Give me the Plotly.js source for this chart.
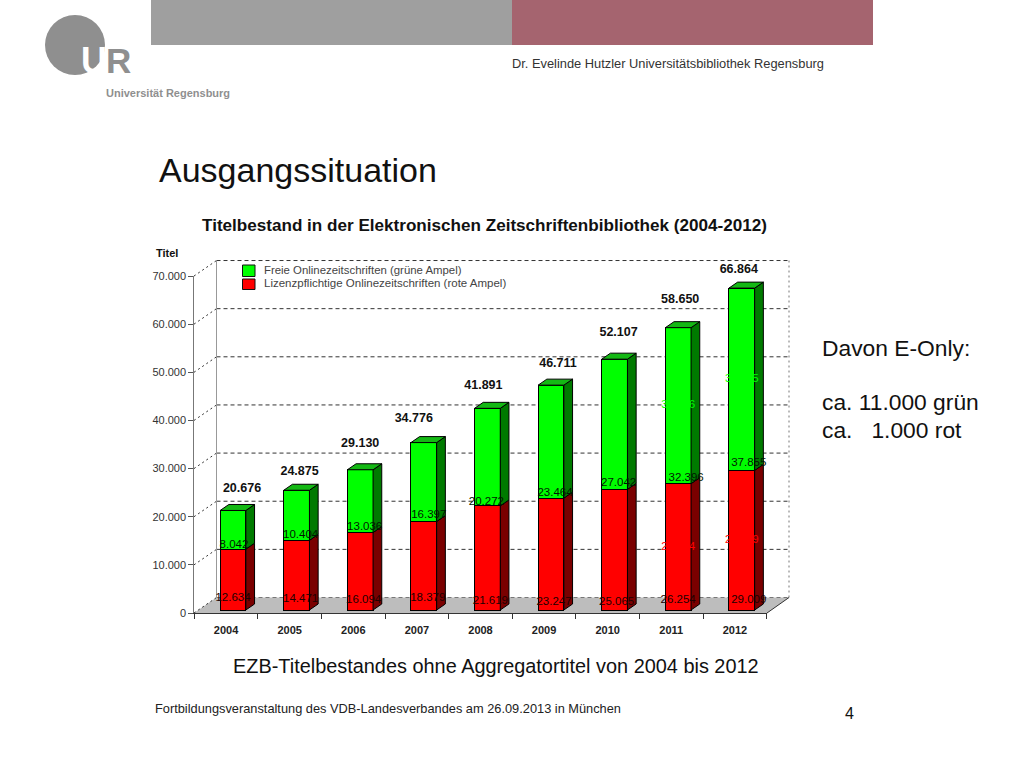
<!DOCTYPE html>
<html><head><meta charset="utf-8">
<script src="https://cdn.plot.ly/plotly-3.0.1.min.js"></script>
<style>html,body{margin:0;padding:0;background:#fff}#c{width:1024px;height:768px}</style>
</head><body><div id="c"></div>
<script>
var years = ['2004','2005','2006','2007','2008','2009','2010','2011','2012'];
var lizenz = [12634,14471,16094,18379,21619,23247,25065,26254,29009];
var frei = [8042,10404,13036,16397,20272,23464,27042,32396,37855];
var totals = [20676,24875,29130,34776,41891,46711,52107,58650,66864];
var yTicks = [0,10000,20000,30000,40000,50000,60000,70000];
var yTickText = ['0','10.000','20.000','30.000','40.000','50.000','60.000','70.000'];

// label nudges in pixels
var totalDx = [9,3,0,-10,-4,7,4,2,-3], totalDy = [22,18,26,24,22,21,26,28,18];
var freiDx = [1,4,4.5,5,-1,4,4,8,7], freiDy = [4,5,5,6,4,5,6,5,7];
var lizDx = [0,4,3.5,4,3,3,2,0,7], lizDy = [12,11,10,12,9,8,8,10,10];

var W=1024,H=768, PXC=63.6, PXV=0.004814, X0=233, Y0=610, BW=25.7/63.6, DX=8.7/PXC, DY=6/PXV;
var xr=[(0-X0)/PXC,(W-X0)/PXC], yr=[(Y0-H)/PXV,Y0/PXV];
function px(p){return (p-X0)/PXC;}
function py(p){return (Y0-p)/PXV;}
function fmt(v){return String(v).replace(/\B(?=(\d{3})+$)/g,'.');}
var idx=years.map(function(_,i){return i;});
var redTop=lizenz, greenTop=idx.map(function(i){return lizenz[i]+frei[i];});

function sidePoly(lo,hi){var xs=[],ys=[];idx.forEach(function(i){var r=i+BW/2;
  xs.push(r,r+DX,r+DX,r,r,null);ys.push(lo[i],lo[i]+DY,hi[i]+DY,hi[i],lo[i],null);});return {x:xs,y:ys};}
function topPoly(v){var xs=[],ys=[];idx.forEach(function(i){var l=i-BW/2,r=i+BW/2;
  xs.push(l,l+DX,r+DX,r,l,null);ys.push(v[i],v[i]+DY,v[i]+DY,v[i],v[i],null);});return {x:xs,y:ys};}
function poly(p,c){return {type:'scatter',mode:'lines',x:p.x,y:p.y,fill:'toself',fillcolor:c,xaxis:'x2',yaxis:'y2',
  line:{color:'#000',width:1},hoverinfo:'skip',showlegend:false};}
function txt(x,y,t,c,s,w){return {type:'scatter',mode:'text',x:x,y:y,text:t,textposition:'middle center',xaxis:'x2',yaxis:'y2',
  textfont:{family:'Liberation Sans',size:s,color:c,weight:w||400},hoverinfo:'skip',showlegend:false};}

var zeros=idx.map(function(){return 0;});
var traces=[
 {type:'scatter',mode:'lines',x:years,y:totals,xaxis:'x',yaxis:'y',opacity:0,hoverinfo:'skip',showlegend:false},
 {type:'bar',name:'Lizenzpflichtige Onlinezeitschriften (rote Ampel)',x:idx,y:lizenz,width:BW,xaxis:'x2',yaxis:'y2',marker:{color:'#ff0000',line:{color:'#000',width:1}},showlegend:false},
 {type:'bar',name:'Freie Onlinezeitschriften (grüne Ampel)',x:idx,y:frei,width:BW,xaxis:'x2',yaxis:'y2',marker:{color:'#00ff00',line:{color:'#000',width:1}},showlegend:false},
 poly(sidePoly(zeros,redTop),'#7a0000'),
 poly(sidePoly(redTop,greenTop),'#007a00'),
 poly(topPoly(greenTop),'#14b814'),
 // same-coloured centred labels, only their overhang shows
 txt([7,8],[lizenz[7]/2,lizenz[8]/2],[fmt(lizenz[7]),fmt(lizenz[8])],'#ff0000',11),
 txt([7,8],[lizenz[7]+frei[7]/2,lizenz[8]+frei[8]/2],[fmt(frei[7]),fmt(frei[8])],'#00ff00',11),
 txt(idx.map(function(i){return i+lizDx[i]/PXC;}),idx.map(function(i){return lizDy[i]/PXV;}),lizenz.map(fmt),'#200000',11.5),
 txt(idx.map(function(i){return i+freiDx[i]/PXC;}),idx.map(function(i){return lizenz[i]+freiDy[i]/PXV;}),frei.map(fmt),'#001800',11.5),
 txt(idx.map(function(i){return i+totalDx[i]/PXC;}),idx.map(function(i){return totals[i]+totalDy[i]/PXV;}),totals.map(fmt),'#111',12.5,700)
];

var shapes=[];
function paperRect(x0,y0,x1,y1,c){shapes.push({type:'rect',xref:'paper',yref:'paper',x0:x0/W,x1:x1/W,y0:1-y0/H,y1:1-y1/H,fillcolor:c,line:{width:0},layer:'below'});}
function seg(x0,y0,x1,y1,c,d){shapes.push({type:'line',xref:'x2',yref:'y2',x0:px(x0),x1:px(x1),y0:py(y0),y1:py(y1),line:{color:c,width:1,dash:d||'solid'},layer:'below'});}
paperRect(151,0,512,45,'#9f9f9f');
paperRect(512,0,873,45,'#a5646f');
shapes.push({type:'circle',xref:'paper',yref:'paper',x0:45/W,x1:105/W,y0:1-15/H,y1:1-75/H,fillcolor:'#8f8f8f',line:{width:0},layer:'below'});
// floor
shapes.push({type:'path',xref:'x2',yref:'y2',layer:'below',line:{width:0},fillcolor:'#bdbdbd',
  path:'M'+px(194)+','+py(613)+'L'+px(216.5)+','+py(597.5)+'L'+px(789)+','+py(597.5)+'L'+px(767)+','+py(613)+'Z'});
// walls and grid
yTicks.forEach(function(v){
  var f=613-v*PXV, b=597.5-v*PXV;
  seg(194,f,216.5,b,'#333','2px,3px');
  seg(216.5,b,789,b,v===0?'#777':'#333','4px,3px');
});
seg(216.5,597.5,216.5,597.5-70000*PXV,'#999');
seg(789,597.5,789,597.5-70000*PXV,'#777','2px,3px');
seg(767,613,789,597.5,'#333');

var annos=[];
function note(x,y,t,s,c,w,a){annos.push({xref:'paper',yref:'paper',x:x/W,y:1-y/H,text:t,showarrow:false,xanchor:a||'left',yanchor:'middle',
  borderpad:0,font:{family:'Liberation Sans',size:s,color:c,weight:w||400}});}
note(80,60,'U',36,'#ffffff',700);
note(105,60,'R',35,'#8f8f8f',700);
note(105,93,'Universität Regensburg',11,'#8f8f8f',700);
note(511,63.5,'Dr. Evelinde Hutzler Universitätsbibliothek Regensburg',12.85,'#333');
note(158,170,'Ausgangssituation',34,'#111');
note(201,225,'Titelbestand in der Elektronischen Zeitschriftenbibliothek (2004-2012)',17.1,'#111',700);
note(155,253,'Titel',11,'#111',700);
note(263,270,'Freie Onlinezeitschriften (grüne Ampel)',11.4,'#444');
note(263,283,'Lizenzpflichtige Onlinezeitschriften (rote Ampel)',11.5,'#444');
note(821,348,'Davon E-Only:',22.8,'#111');
note(821,402,'ca. 11.000 grün',22.8,'#111');
note(821,430,'ca.   1.000 rot',22.8,'#111');
note(232,666,'EZB-Titelbestandes ohne Aggregatortitel von 2004 bis 2012',19.9,'#111');
note(154,708,'Fortbildungsveranstaltung des VDB-Landesverbandes am 26.09.2013 in München',12.8,'#222');
note(844,713,'4',16,'#111');

function swatch(y0,y1,c){shapes.push({type:'rect',xref:'paper',yref:'paper',x0:242.5/W,x1:255/W,y0:1-y0/H,y1:1-y1/H,fillcolor:c,line:{color:'#111',width:1}});}
swatch(265,276.5,'#00ff00');
swatch(279,289.5,'#ff0000');

var layout={width:W,height:H,margin:{l:0,r:0,t:0,b:0},paper_bgcolor:'#fff',plot_bgcolor:'rgba(0,0,0,0)',
 barmode:'stack',showlegend:false,hovermode:false,shapes:shapes,annotations:annos,
 xaxis:{type:'category',categoryorder:'array',categoryarray:years,domain:[194.3/W,766.7/W],range:[-0.5,8.5],anchor:'y',
   tickson:'boundaries',ticks:'outside',ticklen:5,tickcolor:'#333',ticklabelstandoff:7,showline:true,linecolor:'#333',showgrid:false,zeroline:false,
   tickfont:{family:'Liberation Sans',size:11,color:'#222',weight:700},fixedrange:true},
 yaxis:{domain:[(H-613)/H,(H-276)/H],range:[0,70000],anchor:'x',tickvals:yTicks,ticktext:yTickText,ticks:'outside',ticklen:5,tickcolor:'#555',
   showline:true,linecolor:'#777',showgrid:false,zeroline:false,tickfont:{family:'Liberation Sans',size:11,color:'#333'},fixedrange:true},
 xaxis2:{domain:[0,1],range:xr,anchor:'y2',visible:false,fixedrange:true},
 yaxis2:{domain:[0,1],range:yr,anchor:'x2',visible:false,fixedrange:true}
};
Plotly.newPlot('c',traces,layout,{displayModeBar:false,staticPlot:true});
</script></body></html>
